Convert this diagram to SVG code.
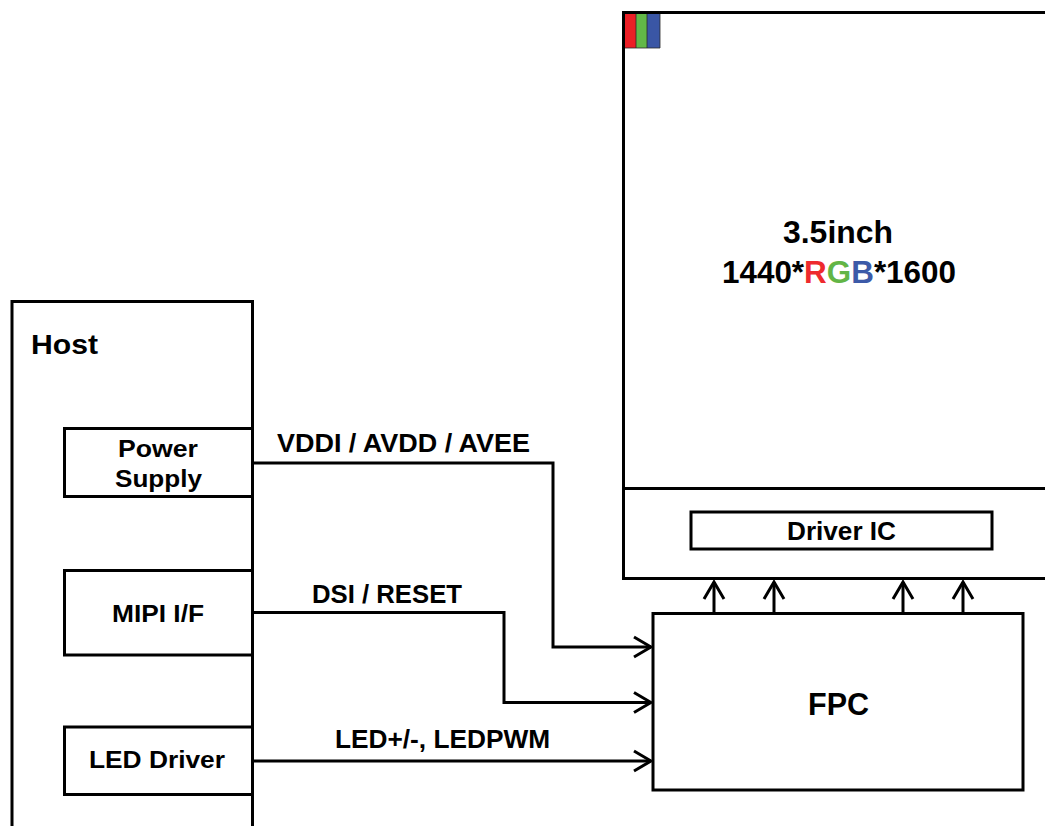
<svg xmlns="http://www.w3.org/2000/svg" width="1045" height="826" viewBox="0 0 1045 826">
<defs>
<style>
.box{fill:none;stroke:#000;stroke-width:3}
.wire{fill:none;stroke:#000;stroke-width:3;stroke-linejoin:miter}
.t{font-family:"Liberation Sans",Arial,Helvetica,sans-serif;font-weight:bold;fill:#000}
.c{text-anchor:middle}
</style>
<marker id="arr" markerUnits="userSpaceOnUse" viewBox="0 0 20 24" markerWidth="20" markerHeight="24" refX="18" refY="12" orient="auto">
<path d="M1,2 L18,12 L1,22" fill="none" stroke="#000" stroke-width="3"/>
</marker>
</defs>
<rect width="1045" height="826" fill="#fff"/>

<g id="display">
<rect class="box" x="623.5" y="12.5" width="430" height="566"/>
<line class="wire" x1="623.5" y1="488.5" x2="1050" y2="488.5"/>
<rect x="625" y="14" width="11" height="34" fill="#ec1f26"/>
<rect x="636" y="14" width="11" height="34" fill="#62b848"/>
<rect x="647" y="14" width="13" height="34" fill="#3a56a5"/>
<path d="M636,14V48M647,14V48M625,48H660V14" fill="none" stroke="#2a2a2a" stroke-width="0.8"/>
<text class="t c" x="838" y="243" font-size="31.5" textLength="110" lengthAdjust="spacingAndGlyphs">3.5inch</text>
<text class="t c" x="839" y="283" font-size="31.5" textLength="234" lengthAdjust="spacingAndGlyphs">1440*<tspan fill="#ee2a2e">R</tspan><tspan fill="#62b546">G</tspan><tspan fill="#3c5aa8">B</tspan>*1600</text>
</g>

<g id="driver-ic">
<rect class="box" x="691" y="512" width="301" height="37"/>
<text class="t c" x="841.5" y="540" font-size="25.5" textLength="109" lengthAdjust="spacingAndGlyphs">Driver IC</text>
</g>

<g id="fpc">
<rect class="box" x="653" y="613.5" width="370" height="176.5"/>
<text class="t c" x="838.5" y="715" font-size="32" textLength="61" lengthAdjust="spacingAndGlyphs">FPC</text>
</g>

<g id="host">
<path class="box" d="M12,830V301.5H252.5V830"/>
<text class="t" x="31" y="354" font-size="27" textLength="67" lengthAdjust="spacingAndGlyphs">Host</text>
</g>

<g id="power-supply">
<rect class="box" x="64.5" y="428.5" width="188" height="68"/>
<text class="t c" x="158" y="457" font-size="24" textLength="80" lengthAdjust="spacingAndGlyphs">Power</text>
<text class="t c" x="158.5" y="487" font-size="24" textLength="87" lengthAdjust="spacingAndGlyphs">Supply</text>
</g>

<g id="mipi">
<rect class="box" x="64.5" y="570.5" width="188" height="84.5"/>
<text class="t c" x="158" y="622" font-size="24" textLength="92" lengthAdjust="spacingAndGlyphs">MIPI I/F</text>
</g>

<g id="led-driver">
<rect class="box" x="64.5" y="727" width="188" height="67.5"/>
<text class="t c" x="157" y="768" font-size="24" textLength="136" lengthAdjust="spacingAndGlyphs">LED Driver</text>
</g>

<g id="connectors">
<path class="wire" d="M252,463H553V647H651" marker-end="url(#arr)"/>
<path class="wire" d="M252,612.5H504V702.5H651" marker-end="url(#arr)"/>
<path class="wire" d="M252,761H651" marker-end="url(#arr)"/>
<path class="wire" d="M714,612V582" marker-end="url(#arr)"/>
<path class="wire" d="M774,612V582" marker-end="url(#arr)"/>
<path class="wire" d="M903,612V582" marker-end="url(#arr)"/>
<path class="wire" d="M963,612V582" marker-end="url(#arr)"/>
<text class="t" x="277" y="452" font-size="25" textLength="253" lengthAdjust="spacingAndGlyphs">VDDI / AVDD / AVEE</text>
<text class="t" x="312" y="603" font-size="25" textLength="150" lengthAdjust="spacingAndGlyphs">DSI / RESET</text>
<text class="t" x="335" y="748" font-size="25" textLength="215" lengthAdjust="spacingAndGlyphs">LED+/-, LEDPWM</text>
</g>
</svg>
